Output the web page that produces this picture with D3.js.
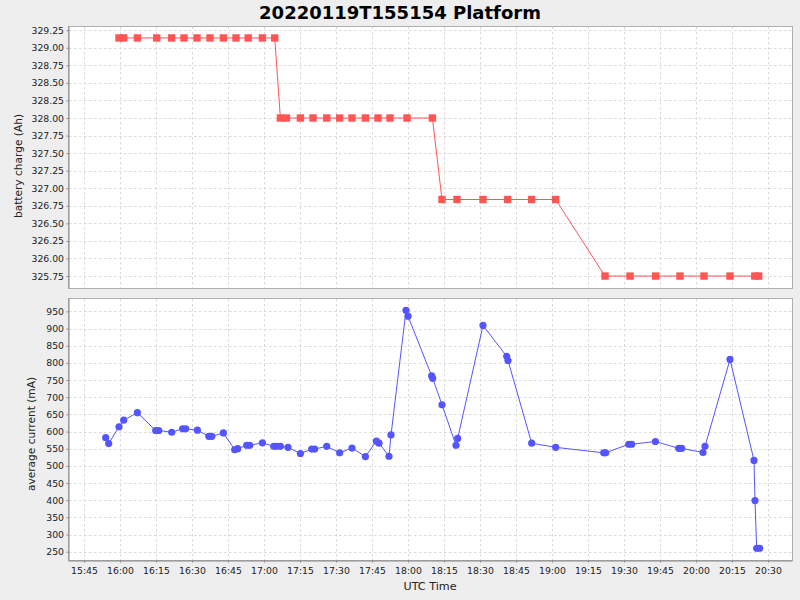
<!DOCTYPE html>
<html>
<head>
<meta charset="utf-8">
<script src="https://cdn.jsdelivr.net/npm/d3@7"></script>
<style>
  body { margin: 0; background: #eeeeee; }
  svg { display: block; }
</style>
</head>
<body>
<div id="chart"></div>
<script>
// battery charge samples (UTC, Ah)
var chargeTimes = ["15:59:35", "16:01:32", "16:07:15", "16:15:18", "16:21:32", "16:26:40", "16:32:05",
  "16:37:30", "16:43:05", "16:48:20", "16:53:25", "16:59:20", "17:04:28",
  "17:06:50", "17:09:20", "17:15:10", "17:20:25", "17:26:08", "17:31:32", "17:36:40",
  "17:42:15", "17:47:30", "17:52:30", "17:59:35", "18:10:10",
  "18:14:10", "18:20:25", "18:31:15", "18:41:32", "18:51:32", "19:01:32",
  "19:22:05", "19:32:30", "19:43:12", "19:53:20", "20:03:20", "20:14:10", "20:24:30", "20:26:07"]
var chargeValues = [329.14, 329.14, 329.14, 329.14, 329.14, 329.14, 329.14,
  329.14, 329.14, 329.14, 329.14, 329.14, 329.14,
  328.00, 328.00, 328.00, 328.00, 328.00, 328.00, 328.00,
  328.00, 328.00, 328.00, 328.00, 328.00,
  326.84, 326.84, 326.84, 326.84, 326.84, 326.84,
  325.75, 325.75, 325.75, 325.75, 325.75, 325.75, 325.75, 325.75]

// average current samples (UTC, mA)
var currentTimes = ["15:54:02", "15:55:17", "15:59:35", "16:01:32", "16:07:15", "16:14:52", "16:16:07",
  "16:21:32", "16:26:06", "16:27:22", "16:32:15", "16:37:00", "16:38:15", "16:43:05",
  "16:47:47", "16:49:02", "16:52:47", "16:54:02", "16:59:20", "17:04:03", "17:05:17",
  "17:06:50", "17:10:00", "17:15:10", "17:19:52", "17:21:07", "17:26:08", "17:31:32",
  "17:36:40", "17:42:15", "17:46:50", "17:47:55", "17:52:05", "17:52:55", "17:59:10",
  "18:00:00", "18:09:52", "18:10:17", "18:14:10", "18:20:00", "18:20:42", "18:31:15",
  "18:41:08", "18:41:40", "18:51:32", "19:01:32", "19:21:32", "19:22:22", "19:31:57",
  "19:33:12", "19:43:05", "19:52:48", "19:54:03", "20:02:55", "20:03:45", "20:14:10",
  "20:24:10", "20:24:35", "20:25:17", "20:26:30"]
var currentValues = [582, 565, 614, 633, 655, 603, 603,
  598, 608, 608, 604, 586, 586, 596,
  547, 550, 560, 560, 567, 557, 557,
  557, 554, 536, 549, 549, 557, 538,
  552, 527, 572, 566, 528, 590, 953,
  936, 762, 755, 678, 560, 580, 909,
  819, 807, 566, 554, 538, 538, 563,
  563, 571, 551, 551, 539, 557, 810,
  516, 399, 260, 260]

// tick labels
var timeTicks = ["15:45", "16:00", "16:15", "16:30", "16:45", "17:00", "17:15", "17:30", "17:45", "18:00",
  "18:15", "18:30", "18:45", "19:00", "19:15", "19:30", "19:45", "20:00", "20:15", "20:30"]
var chargeTicks = [325.75, 326.00, 326.25, 326.50, 326.75, 327.00, 327.25, 327.50,
  327.75, 328.00, 328.25, 328.50, 328.75, 329.00, 329.25]
var currentTicks = [250, 300, 350, 400, 450, 500, 550, 600, 650, 700, 750, 800, 850, 900, 950]

var width = 800
var height = 600
var plotLeft = 68
var plotRight = 792
var upper = { top: 26, bottom: 288 }
var lower = { top: 298, bottom: 560 }

var font = "DejaVu Sans"
var gridColor = "#dadada"
var redColor = "#ff5555"
var blueColor = "#5555ff"

var parseTime = d3.utcParse("%H:%M:%S")
var parseTick = d3.utcParse("%H:%M")

var chargeData = chargeTimes.map(function (t, i) { return { t: parseTime(t), v: chargeValues[i] } })
var currentData = currentTimes.map(function (t, i) { return { t: parseTime(t), v: currentValues[i] } })

var x = d3.scaleUtc()
  .domain([parseTime("15:38:20"), parseTime("20:40:00")])
  .range([plotLeft, plotRight])

var yCharge = d3.scaleLinear().domain([325.58, 329.31]).range([upper.bottom, upper.top])
var yCurrent = d3.scaleLinear().domain([225.8, 989]).range([lower.bottom, lower.top])

var svg = d3.select("#chart")
  .append("svg")
  .attr("width", width)
  .attr("height", height)
  .style("background", "#eeeeee")

svg.append("text")
  .attr("x", 400)
  .attr("y", 18.5)
  .attr("text-anchor", "middle")
  .attr("font-family", font)
  .attr("font-size", 18)
  .attr("font-weight", "bold")
  .attr("fill", "#000")
  .text("20220119T155154 Platform")

function drawPanel(box, y, ticks, fmt, label, labelX, labelY) {
  var g = svg.append("g")

  g.append("rect")
    .attr("x", plotLeft + 0.5)
    .attr("y", box.top + 0.5)
    .attr("width", plotRight - plotLeft)
    .attr("height", box.bottom - box.top)
    .attr("fill", "#fff")
    .attr("stroke", "#b0b0b0")

  //gridlines
  g.selectAll(".hgrid")
    .data(ticks)
    .enter()
    .append("line")
    .attr("x1", plotLeft + 1)
    .attr("x2", plotRight)
    .attr("y1", function (d) { return Math.round(y(d)) + 0.5 })
    .attr("y2", function (d) { return Math.round(y(d)) + 0.5 })
    .attr("stroke", gridColor)
    .attr("stroke-dasharray", "2.5,2.5")

  g.selectAll(".vgrid")
    .data(timeTicks)
    .enter()
    .append("line")
    .attr("x1", function (d) { return Math.round(x(parseTick(d))) + 0.5 })
    .attr("x2", function (d) { return Math.round(x(parseTick(d))) + 0.5 })
    .attr("y1", box.top + 1)
    .attr("y2", box.bottom)
    .attr("stroke", gridColor)
    .attr("stroke-dasharray", "2.5,2.5")

  var axis = g.append("g")
    .attr("transform", "translate(" + (plotLeft + 0.5) + ",0)")
    .call(d3.axisLeft(y).tickValues(ticks).tickFormat(fmt).tickSize(2).tickSizeOuter(0).tickPadding(2.5))
  axis.select(".domain").attr("stroke", "#888")
  axis.selectAll(".tick line").attr("stroke", "#888")
  axis.selectAll("text")
    .attr("font-family", font)
    .attr("font-size", 9.3)
    .attr("fill", "#222")

  svg.append("text")
    .attr("transform", "translate(" + labelX + "," + labelY + ") rotate(-90)")
    .attr("text-anchor", "middle")
    .attr("font-family", font)
    .attr("font-size", 10.6)
    .attr("fill", "#222")
    .text(label)

  return g
}

var upperG = drawPanel(upper, yCharge, chargeTicks, d3.format(".2f"), "battery charge (Ah)", 21.5, 166)
var lowerG = drawPanel(lower, yCurrent, currentTicks, d3.format("d"), "average current (mA)", 34.5, 434)

// charge series
var chargeLine = d3.line()
  .x(function (d) { return x(d.t) })
  .y(function (d) { return yCharge(d.v) })

upperG.append("path")
  .datum(chargeData)
  .attr("d", chargeLine)
  .attr("fill", "none")
  .attr("stroke", redColor)
  .attr("stroke-width", 1)

upperG.selectAll(".sq")
  .data(chargeData)
  .enter()
  .append("rect")
  .attr("x", function (d) { return x(d.t) - 3.7 })
  .attr("y", function (d) { return yCharge(d.v) - 3.7 })
  .attr("width", 7.4)
  .attr("height", 7.4)
  .attr("fill", redColor)

// current series
var currentLine = d3.line()
  .x(function (d) { return x(d.t) })
  .y(function (d) { return yCurrent(d.v) })

lowerG.append("path")
  .datum(currentData)
  .attr("d", currentLine)
  .attr("fill", "none")
  .attr("stroke", blueColor)
  .attr("stroke-width", 1)

lowerG.selectAll(".dot")
  .data(currentData)
  .enter()
  .append("circle")
  .attr("cx", function (d) { return x(d.t) })
  .attr("cy", function (d) { return yCurrent(d.v) })
  .attr("r", 3.6)
  .attr("fill", blueColor)

//shared time axis
var xAxis = svg.append("g")
  .attr("transform", "translate(0," + (lower.bottom + 0.5) + ")")
  .call(d3.axisBottom(x)
    .tickValues(timeTicks.map(parseTick))
    .tickFormat(d3.utcFormat("%H:%M"))
    .tickSize(2)
    .tickSizeOuter(0)
    .tickPadding(5))
xAxis.select(".domain").attr("stroke", "#888")
xAxis.selectAll(".tick line").attr("stroke", "#888")
xAxis.selectAll("text")
  .attr("font-family", font)
  .attr("font-size", 9.3)
  .attr("fill", "#222")

svg.append("text")
  .attr("x", (plotLeft + plotRight) / 2)
  .attr("y", 589.5)
  .attr("text-anchor", "middle")
  .attr("font-family", font)
  .attr("font-size", 11.2)
  .attr("fill", "#222")
  .text("UTC Time")
</script>
</body>
</html>
